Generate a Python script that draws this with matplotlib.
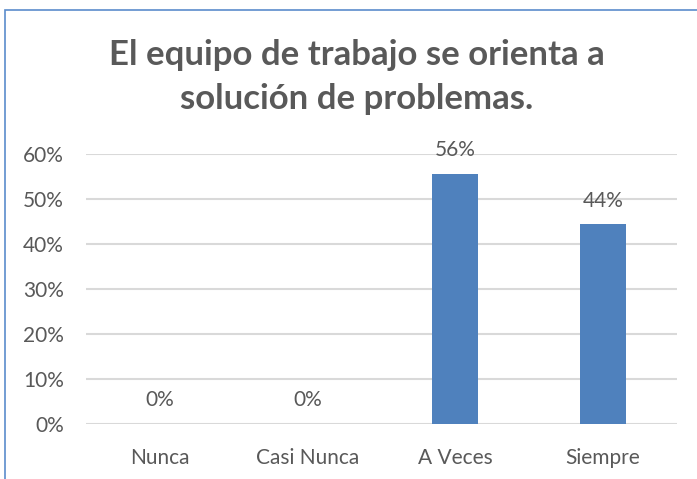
import matplotlib.pyplot as plt
from matplotlib.patches import Rectangle

categories = ['Nunca', 'Casi Nunca', 'A Veces', 'Siempre']
values = [0.0, 0.0, 0.556, 0.444]
value_labels = ['0%', '0%', '56%', '44%']
y_ticks = [0, 0.1, 0.2, 0.3, 0.4, 0.5, 0.6]
y_tick_labels = ['0%', '10%', '20%', '30%', '40%', '50%', '60%']

title = 'El equipo de trabajo se orienta a\nsolución de problemas.'

text_color = '#595959'
bar_color = '#4f81bd'
grid_color = '#d9d9d9'

plt.rcParams['font.family'] = ['Lato', 'DejaVu Sans']

fig = plt.figure(figsize=(6.97, 4.79), dpi=100)
W, H = 697, 479

# outer chart frame (cropped at right and bottom)
fig.patches.append(Rectangle((5 / W, -0.05), 1.2, 1 - 10 / H + 0.05,
                             transform=fig.transFigure, fill=False,
                             edgecolor='#5b8ccc', linewidth=1.2))

ax = fig.add_axes([86 / W, 1 - 424 / H, (677 - 86) / W, (424 - 154) / H])

x = range(len(categories))
ax.bar(x, values, width=0.31, color=bar_color, zorder=3)
for xi, v, lab in zip(x, values, value_labels):
    ax.text(xi, v + 0.03, lab, ha='center', va='bottom',
            fontsize=15, color=text_color)

ax.set_xlim(-0.5, len(categories) - 0.5)
ax.set_ylim(0, 0.6)
ax.set_yticks(y_ticks)
ax.set_yticklabels(y_tick_labels, fontsize=15, color=text_color)
ax.set_xticks(list(x))
ax.set_xticklabels(categories, fontsize=15, color=text_color)
ax.tick_params(axis='both', length=0)
ax.tick_params(axis='y', pad=16)
ax.tick_params(axis='x', pad=17)
ax.yaxis.grid(True, color=grid_color, linewidth=1.5, zorder=0)
ax.set_axisbelow(True)
for s in ax.spines.values():
    s.set_visible(False)

fig.text(357 / W, 1 - 77 / H, title, ha='center', va='center',
         fontsize=25, fontweight='bold', color=text_color, linespacing=1.45)

fig.savefig('out.png', dpi=100)
